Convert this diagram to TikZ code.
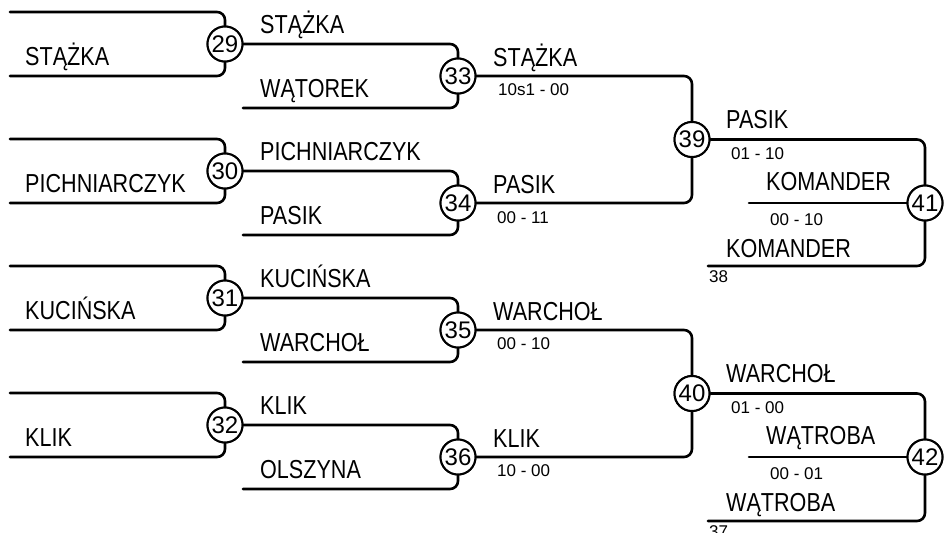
\documentclass[tikz,border=0pt]{standalone}
\usepackage{fontspec}
\setmainfont{Liberation Sans}
\newfontfamily\namefont[FakeStretch=0.83]{Liberation Sans}
\begin{document}
\begin{tikzpicture}[x=1pt,y=-1pt,
  ln/.style={line width=2.6pt,rounded corners=8pt,line cap=round},
  mt/.style={circle,draw,line width=2pt,fill=white,minimum size=35pt,inner sep=0pt,font=\fontsize{24}{24}\selectfont},
  nm/.style={anchor=base west,inner sep=0pt,font=\namefont\fontsize{26}{26}\selectfont},
  sc/.style={anchor=base west,inner sep=0pt,font=\fontsize{17}{17}\selectfont}]
\useasboundingbox (0,0) rectangle (946,533);
% match circles
\node[mt] (m29) at (225,44) {29};
\node[mt] (m30) at (225,171) {30};
\node[mt] (m31) at (225,298) {31};
\node[mt] (m32) at (225,425) {32};
\node[mt] (m33) at (458,76) {33};
\node[mt] (m34) at (458,203) {34};
\node[mt] (m35) at (458,330) {35};
\node[mt] (m36) at (458,457) {36};
\node[mt] (m39) at (692,139.5) {39};
\node[mt] (m40) at (692,393.5) {40};
\node[mt] (m41) at (925,203) {41};
\node[mt] (m42) at (925,457) {42};
% free ends
\coordinate (a29) at (10,12);  \coordinate (b29) at (10,76);
\coordinate (a30) at (10,139); \coordinate (b30) at (10,203);
\coordinate (a31) at (10,266); \coordinate (b31) at (10,330);
\coordinate (a32) at (10,393); \coordinate (b32) at (10,457);
\coordinate (b33) at (243,108);
\coordinate (b34) at (243,235);
\coordinate (b35) at (243,362);
\coordinate (b36) at (243,489);
\coordinate (c41) at (749,203); \coordinate (b41) at (708,266);
\coordinate (c42) at (749,457); \coordinate (b42) at (708,521);
% connectors
\foreach \m in {29,30,31,32}{
  \draw[ln] (a\m) -| (m\m.north);
  \draw[ln] (b\m) -| (m\m.south);
}
\draw[ln] (m29.east) -| (m33.north); \draw[ln] (b33) -| (m33.south);
\draw[ln] (m30.east) -| (m34.north); \draw[ln] (b34) -| (m34.south);
\draw[ln] (m31.east) -| (m35.north); \draw[ln] (b35) -| (m35.south);
\draw[ln] (m32.east) -| (m36.north); \draw[ln] (b36) -| (m36.south);
\draw[ln] (m33.east) -| (m39.north); \draw[ln] (m34.east) -| (m39.south);
\draw[ln] (m35.east) -| (m40.north); \draw[ln] (m36.east) -| (m40.south);
\draw[ln] (m39.east) -| (m41.north); \draw[ln] (c41) -- (m41.west); \draw[ln] (b41) -| (m41.south);
\draw[ln] (m40.east) -| (m42.north); \draw[ln] (c42) -- (m42.west); \draw[ln] (b42) -| (m42.south);
% redraw circles on top of line ends
\foreach \m/\x/\y in {29/225/44,30/225/171,31/225/298,32/225/425,33/458/76,34/458/203,35/458/330,36/458/457,39/692/139.5,40/692/393.5,41/925/203,42/925/457}{
  \node[mt] at (\x,\y) {\m};
}
% round 1 names
\node[nm] (t29) at (25,65) {STĄŻKA};
\node[nm] (t30) at (25,192) {PICHNIARCZYK};
\node[nm] (t31) at (25,319) {KUCIŃSKA};
\node[nm] (t32) at (25,446) {KLIK};
% round 2 names
\node[nm] (u29) at (260,33) {STĄŻKA};
\node[nm] (u33) at (260,97) {WĄTOREK};
\node[nm] (u30) at (260,160) {PICHNIARCZYK};
\node[nm] (u34) at (260,224) {PASIK};
\node[nm] (u31) at (260,287) {KUCIŃSKA};
\node[nm] (u35) at (260,351) {WARCHOŁ};
\node[nm] (u32) at (260,414) {KLIK};
\node[nm] (u36) at (260,478) {OLSZYNA};
% round 3 names and scores
\node[nm] (v33) at (493,66) {STĄŻKA};
\node[sc] (s33) at (498,95) {10s1 - 00};
\node[nm] (v34) at (493,193) {PASIK};
\node[sc] (s34) at (497,223) {00 - 11};
\node[nm] (v35) at (493,320) {WARCHOŁ};
\node[sc] (s35) at (497,349) {00 - 10};
\node[nm] (v36) at (493,447) {KLIK};
\node[sc] (s36) at (497,476) {10 - 00};
% round 4
\node[nm] (w39) at (726,128) {PASIK};
\node[sc] (x39) at (731,159) {01 - 10};
\node[nm] (w41) at (766,190) {KOMANDER};
\node[sc] (x41) at (770,225) {00 - 10};
\node[nm] (y41) at (726,257) {KOMANDER};
\node[sc] (z41) at (709,282) {38};
\node[nm] (w40) at (726,382) {WARCHOŁ};
\node[sc] (x40) at (731,413) {01 - 00};
\node[nm] (w42) at (766,444) {WĄTROBA};
\node[sc] (x42) at (770,479) {00 - 01};
\node[nm] (y42) at (726,511) {WĄTROBA};
\node[sc] (z42) at (709,537) {37};
\end{tikzpicture}
\end{document}
